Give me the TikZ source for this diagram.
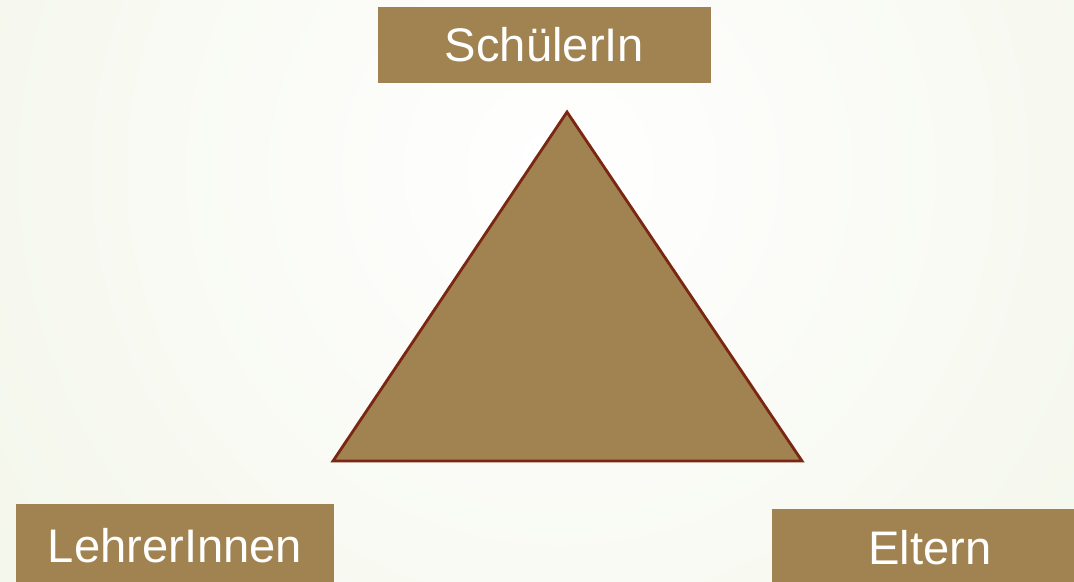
\documentclass[tikz,border=0pt]{standalone}
\usepackage{fontspec}
\setmainfont{Liberation Sans}
\usetikzlibrary{positioning}

\definecolor{boxbrown}{HTML}{A08350}
\definecolor{edgered}{HTML}{7A2612}
\definecolor{bgedge}{HTML}{EBF0DB}

\begin{document}
\begin{tikzpicture}[
  x=0.01cm, y=-0.01cm,
  rolebox/.style={
    fill=boxbrown,
    inner sep=0pt,
    text=white,
    font=\fontsize{13.4}{16}\selectfont
  },
  tri/.style={
    fill=boxbrown,
    draw=edgered,
    line width=0.8pt,
    line join=miter
  }
]

% background
\useasboundingbox (0,0) rectangle (1074,581);
\begin{scope}
  \clip (0,0) rectangle (1074,581);
  \fill[bgedge] (0,0) rectangle (1074,581);
  \shade[inner color=white, outer color=bgedge] (560,170) circle (1250);
\end{scope}

\begin{scope}
  \clip (0,0) rectangle (1074,581);
  \node[rolebox, minimum width=3.33cm, minimum height=0.76cm] (schueler) at (544.5,45) {SchülerIn};
  \node[rolebox, minimum width=3.18cm, minimum height=0.84cm] (lehrer)   at (175,546)   {LehrerInnen};
  \node[rolebox, minimum width=3.16cm, minimum height=0.78cm] (eltern)   at (930,548)   {Eltern};
\end{scope}

\coordinate (top)   at (567,112);
\coordinate (left)  at (333,461);
\coordinate (right) at (802,461);

\draw[tri] (top) -- (right) -- (left) -- cycle;

\end{tikzpicture}
\end{document}
